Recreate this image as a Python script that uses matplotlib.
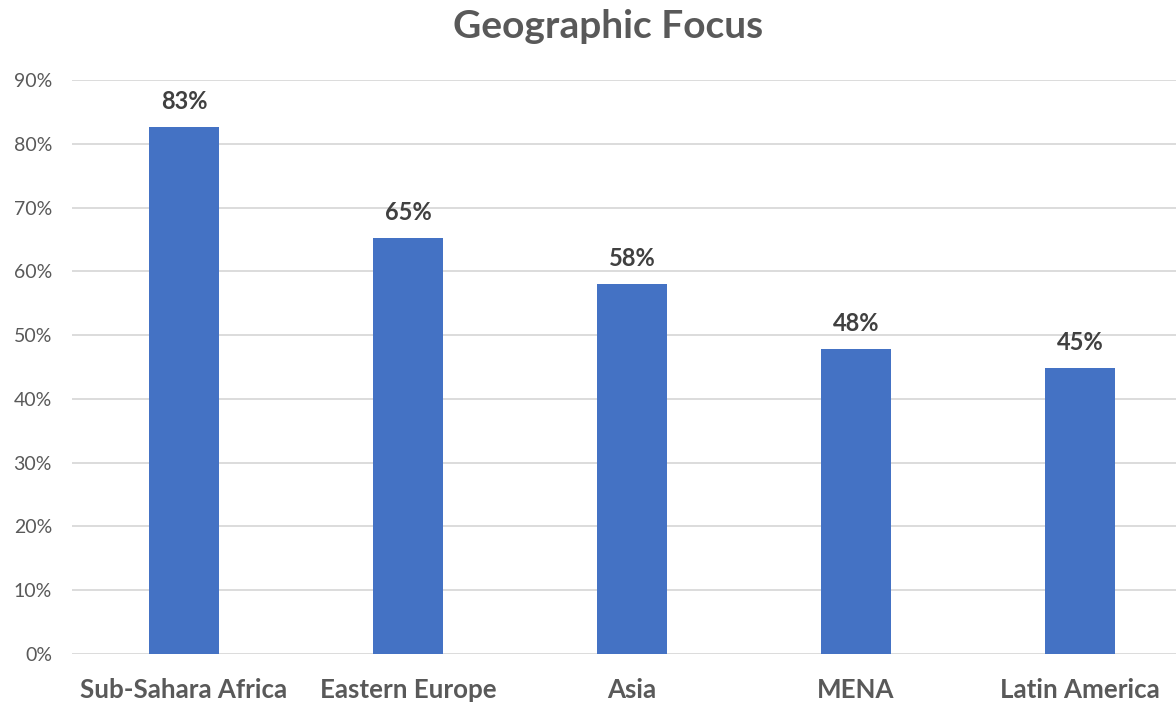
import matplotlib
matplotlib.use("Agg")
import matplotlib.pyplot as plt
from matplotlib.ticker import PercentFormatter

categories = ["Sub-Sahara Africa", "Eastern Europe", "Asia", "MENA", "Latin America"]
values = [0.826, 0.652, 0.58, 0.478, 0.448]
labels = ["83%", "65%", "58%", "48%", "45%"]
yticks = [0, 0.1, 0.2, 0.3, 0.4, 0.5, 0.6, 0.7, 0.8, 0.9]

plt.rcParams['font.family'] = ['Lato', 'DejaVu Sans']

fig = plt.figure(figsize=(11.76, 7.04), dpi=100)
W, H = 1176, 704
ax = fig.add_axes([72 / W, (H - 654) / H, (1176 - 72) / W, (654 - 80) / H])

x = list(range(len(categories)))
bars = ax.bar(x, values, width=0.3125, color="#4472C4", zorder=3)
ax.set_xlim(-0.5, (1176 - 184) / 224)
ax.set_ylim(0, 0.9)
ax.set_yticks(yticks)
ax.yaxis.set_major_formatter(PercentFormatter(1.0, decimals=0))
ax.set_xticks(x)
ax.set_xticklabels(categories, fontsize=18.6, fontweight="bold", color="#595959")
ax.tick_params(axis="y", labelsize=14, labelcolor="#595959", length=0, pad=14.4)
ax.tick_params(axis="x", length=0, pad=17)
ax.grid(axis="y", color="#D9D9D9", linewidth=1.3, zorder=0)
for s in ax.spines.values():
    s.set_visible(False)

for xi, v, lab in zip(x, values, labels):
    ax.annotate(lab, (xi, v), xytext=(0, 10), textcoords="offset points",
                ha="center", va="bottom", fontsize=17, fontweight="bold", color="#404040")

fig.text(608 / W, 1 - 27 / H, "Geographic Focus", ha="center", va="center",
         fontsize=28, fontweight="bold", color="#595959")

fig.savefig("out.png", dpi=100)
